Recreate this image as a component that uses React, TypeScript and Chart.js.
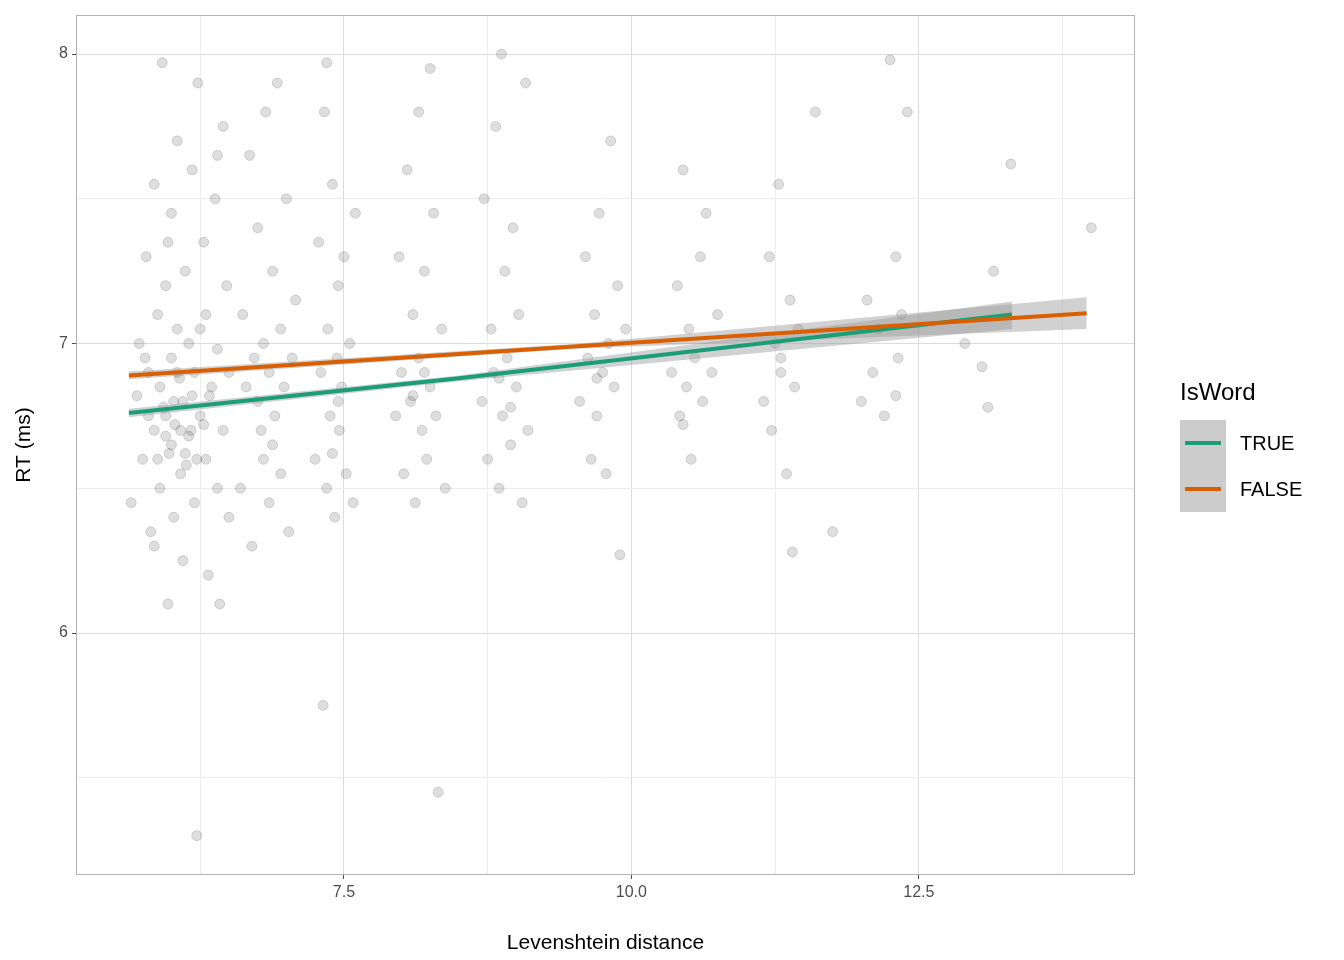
import React, { useEffect, useRef } from "react";
import { Chart, registerables } from "chart.js";
Chart.register(...registerables);

const clusterA: number[][] = [
  [5.65,6.45],[5.7,6.82],[5.72,7.0],[5.75,6.6],[5.78,7.3],[5.8,6.9],[5.82,6.35],[5.85,7.55],[5.85,6.7],[5.88,7.1],
  [5.9,6.5],[5.9,6.85],[5.92,7.97],[5.95,6.75],[5.95,7.2],[5.97,6.1],[5.98,6.62],[6.0,7.45],[6.0,6.95],[6.02,6.4],
  [6.03,6.72],[6.05,7.05],[6.05,7.7],[6.08,6.55],[6.1,6.8],[6.1,6.25],[6.12,7.25],[6.15,6.68],[6.15,7.0],[6.18,7.6],
  [6.2,6.45],[6.2,6.9],[6.22,5.3],[6.23,7.9],[6.25,6.75],[6.28,7.35],[6.3,6.6],[6.3,7.1],[6.32,6.2],[6.35,6.85],
  [6.38,7.5],[6.4,6.5],[6.4,6.98],[6.42,6.1],[6.45,7.75],[6.45,6.7],[6.48,7.2],[6.5,6.4],[6.5,6.9],[5.85,6.3],
  [6.0,6.65],[6.07,6.88],[5.93,6.78],[6.13,6.58],[6.25,7.05],[5.77,6.95],[6.33,6.82],[6.17,6.7],[5.97,7.35],[6.4,7.65],
  [5.88,6.6],[5.95,6.68],[6.02,6.8],[6.08,6.7],[6.12,6.62],[6.18,6.82],[6.22,6.6],[6.28,6.72],[5.8,6.75],[6.05,6.9],
];
const clusterB: number[][] = [
  [6.6,6.5],[6.62,7.1],[6.65,6.85],[6.68,7.65],[6.7,6.3],[6.72,6.95],[6.75,7.4],[6.78,6.7],[6.8,6.6],[6.8,7.0],
  [6.82,7.8],[6.85,6.45],[6.85,6.9],[6.88,7.25],[6.9,6.75],[6.92,7.9],[6.95,6.55],[6.95,7.05],[6.98,6.85],[7.0,7.5],
  [7.02,6.35],[7.05,6.95],[7.08,7.15],[6.75,6.8],[6.88,6.65],
];
const clusterC: number[][] = [
  [7.25,6.6],[7.28,7.35],[7.3,6.9],[7.32,5.75],[7.33,7.8],[7.35,6.5],[7.36,7.05],[7.38,6.75],[7.4,7.55],[7.42,6.4],
  [7.44,6.95],[7.45,7.2],[7.46,6.7],[7.48,6.85],[7.5,7.3],[7.52,6.55],[7.55,7.0],[7.58,6.45],[7.6,7.45],[7.35,7.97],
  [7.45,6.8],[7.4,6.62],
];
const clusterD: number[][] = [
  [7.95,6.75],[7.98,7.3],[8.0,6.9],[8.02,6.55],[8.05,7.6],[8.08,6.8],[8.1,7.1],[8.12,6.45],[8.15,7.8],[8.15,6.95],
  [8.18,6.7],[8.2,7.25],[8.22,6.6],[8.25,7.95],[8.25,6.85],[8.28,7.45],[8.3,6.75],[8.32,5.45],[8.35,7.05],[8.38,6.5],
  [8.1,6.82],[8.2,6.9],
];
const clusterE: number[][] = [
  [8.7,6.8],[8.72,7.5],[8.75,6.6],[8.78,7.05],[8.8,6.9],[8.82,7.75],[8.85,6.5],[8.87,8.0],[8.88,6.75],[8.9,7.25],
  [8.92,6.95],[8.95,6.65],[8.97,7.4],[9.0,6.85],[9.02,7.1],[9.05,6.45],[9.08,7.9],[9.1,6.7],[8.85,6.88],[8.95,6.78],
];
const clusterF: number[][] = [
  [9.55,6.8],[9.6,7.3],[9.62,6.95],[9.65,6.6],[9.68,7.1],[9.7,6.75],[9.72,7.45],[9.75,6.9],[9.78,6.55],[9.8,7.0],
  [9.82,7.7],[9.85,6.85],[9.88,7.2],[9.9,6.27],[9.95,7.05],[9.7,6.88],
];
const clusterG: number[][] = [
  [10.35,6.9],[10.4,7.2],[10.42,6.75],[10.45,7.6],[10.48,6.85],[10.5,7.05],[10.52,6.6],[10.55,6.95],[10.6,7.3],[10.62,6.8],
  [10.65,7.45],[10.7,6.9],[10.75,7.1],[10.45,6.72],
];
const clusterH: number[][] = [
  [11.15,6.8],[11.2,7.3],[11.22,6.7],[11.25,7.0],[11.28,7.55],[11.3,6.9],[11.35,6.55],[11.38,7.15],[11.4,6.28],[11.42,6.85],
  [11.45,7.05],[11.6,7.8],[11.75,6.35],[11.3,6.95],
];
const clusterI: number[][] = [
  [12.0,6.8],[12.05,7.15],[12.1,6.9],[12.15,7.05],[12.2,6.75],[12.25,7.98],[12.3,7.3],[12.32,6.95],[12.35,7.1],[12.4,7.8],
  [12.3,6.82],
];
const clusterJ: number[][] = [
  [13.05,6.92],[13.1,6.78],[13.15,7.25],[13.3,7.62],[14.0,7.4],[12.9,7.0],
];

// Fitted lines and confidence bands
const trueX = [5.63, 8.5, 13.31];
const trueFit = [6.76, 6.88, 7.1];
const trueLo = [6.745, 6.87, 7.05];
const trueHi = [6.775, 6.89, 7.145];
const falseX = [5.63, 9.5, 13.96];
const falseFit = [6.89, 6.99, 7.105];
const falseLo = [6.877, 6.982, 7.05];
const falseHi = [6.903, 6.998, 7.16];

const xTicks = [6.25, 7.5, 8.75, 10, 11.25, 12.5, 13.75];
const yTicks = [5.5, 6, 6.5, 7, 7.5, 8];
const xLabeled = [7.5, 10, 12.5];
const yLabeled = [6, 7, 8];

const GREEN = "#1b9e77";
const ORANGE = "#d95f02";
const FONT = "'Liberation Sans', Arial, sans-serif";

const pts = (xs: number[], ys: number[]) => xs.map((x, i) => ({ x, y: ys[i] }));

export default function App() {
  const ref = useRef<HTMLCanvasElement>(null);
  useEffect(() => {
    document.body.style.margin = "0";
    const all = [clusterA, clusterB, clusterC, clusterD, clusterE, clusterF, clusterG, clusterH, clusterI, clusterJ]
      .flat().map(([x, y]) => ({ x, y }));
    const frame = {
      id: "frame",
      afterDraw(c: any) {
        const a = c.chartArea, ctx = c.ctx;
        ctx.save(); ctx.strokeStyle = "#b3b3b3"; ctx.lineWidth = 1;
        ctx.strokeRect(a.left + 0.5, a.top + 0.5, a.right - a.left - 1, a.bottom - a.top - 1);
        ctx.restore();
      },
    };
    const band = (xs: number[], lo: number[], hi: number[], order: number) => [
      { type: "line", data: pts(xs, lo), borderWidth: 0, pointRadius: 0, fill: false, order, backgroundColor: "rgba(0,0,0,0)" },
      { type: "line", data: pts(xs, hi), borderWidth: 0, pointRadius: 0, fill: "-1", order, backgroundColor: "rgba(153,153,153,0.45)" },
    ];
    const chart = new Chart(ref.current!, {
      type: "scatter",
      data: {
        datasets: [
          { type: "scatter", data: all, pointRadius: 5, pointBackgroundColor: "rgba(0,0,0,0.13)", pointBorderColor: "rgba(0,0,0,0.14)", pointBorderWidth: 1, order: 5 } as any,
          ...band(trueX, trueLo, trueHi, 3),
          ...band(falseX, falseLo, falseHi, 3),
          { type: "line", data: pts(trueX, trueFit), borderColor: GREEN, borderWidth: 4, pointRadius: 0, fill: false, order: 1 },
          { type: "line", data: pts(falseX, falseFit), borderColor: ORANGE, borderWidth: 4, pointRadius: 0, fill: false, order: 0 },
        ] as any,
      },
      options: {
        responsive: false,
        animation: false,
        layout: { padding: { top: 15, right: 209, left: 8, bottom: 0 } },
        plugins: { legend: { display: false }, tooltip: { enabled: false } },
        scales: {
          x: {
            type: "linear", min: 5.17, max: 14.38,
            afterBuildTicks: (s: any) => { s.ticks = xTicks.map((v) => ({ value: v })); },
            afterFit: (s: any) => { s.height = 85; },
            ticks: { callback: (v: any) => (xLabeled.includes(v) ? Number(v).toFixed(1) : ""), color: "#4d4d4d", font: { family: FONT, size: 16 }, maxRotation: 0, autoSkip: false, padding: 4 },
            grid: {
              color: (c: any) => (xLabeled.includes(c.tick?.value) ? "#dcdcdc" : "#ededed"),
              tickColor: (c: any) => (xLabeled.includes(c.tick?.value) ? "#4d4d4d" : "rgba(0,0,0,0)"),
              tickLength: 4,
            },
            border: { display: false },
            title: { display: true, text: "Levenshtein distance", color: "#000", font: { family: FONT, size: 21 }, padding: { top: 0 } },
          },
          y: {
            type: "linear", min: 5.164, max: 8.135,
            afterBuildTicks: (s: any) => { s.ticks = yTicks.map((v) => ({ value: v })); },
            afterFit: (s: any) => { s.width = 68; },
            ticks: { callback: (v: any) => (yLabeled.includes(v) ? String(v) : ""), color: "#4d4d4d", font: { family: FONT, size: 16 }, autoSkip: false, padding: 4 },
            grid: {
              color: (c: any) => (yLabeled.includes(c.tick?.value) ? "#dcdcdc" : "#ededed"),
              tickColor: (c: any) => (yLabeled.includes(c.tick?.value) ? "#4d4d4d" : "rgba(0,0,0,0)"),
              tickLength: 4,
            },
            border: { display: false },
            title: { display: true, text: "RT (ms)", color: "#000", font: { family: FONT, size: 21 } },
          },
        },
      } as any,
      plugins: [frame],
    });
    return () => chart.destroy();
  }, []);

  const item = (color: string, label: string, top: number) => (
    <div style={{ position: "absolute", left: 1180, top, display: "flex", alignItems: "center" }}>
      <div style={{ width: 46, height: 46, background: "#cccccc", position: "relative" }}>
        <div style={{ position: "absolute", left: 5, right: 5, top: 21, height: 4, background: color }} />
      </div>
      <span style={{ marginLeft: 14, fontFamily: FONT, fontSize: 20, color: "#000" }}>{label}</span>
    </div>
  );

  return (
    <div style={{ position: "relative", width: 1344, height: 960, background: "#fff" }}>
      <canvas ref={ref} width={1344} height={960} style={{ position: "absolute", left: 0, top: 0 }} />
      <div style={{ position: "absolute", left: 1180, top: 378, fontFamily: FONT, fontSize: 24, color: "#000" }}>IsWord</div>
      {item(GREEN, "TRUE", 420)}
      {item(ORANGE, "FALSE", 466)}
    </div>
  );
}
